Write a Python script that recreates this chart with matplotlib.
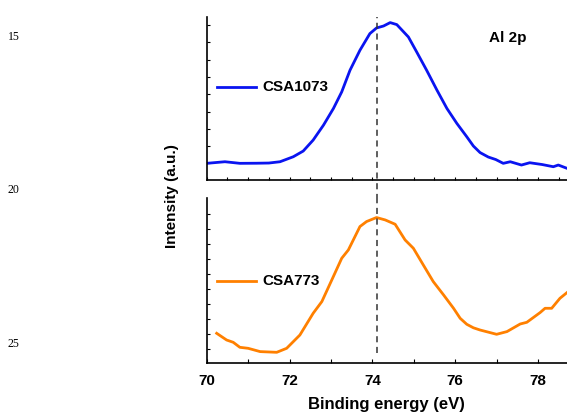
import numpy as np
import matplotlib
matplotlib.use('Agg')
import matplotlib.pyplot as plt

plt.rcParams['font.family'] = ['Liberation Sans', 'DejaVu Sans']
plt.rcParams['font.weight'] = 'bold'

PEAK_POS = 74.1

# CSA1073 (top panel), arbitrary intensity units
e_1073 = [70.0, 70.44, 70.8, 71.2, 71.5, 71.77, 72.09, 72.33, 72.57, 72.82,
          73.06, 73.26, 73.46, 73.7, 73.94, 74.1, 74.27, 74.43, 74.59, 74.87,
          75.07, 75.31, 75.56, 75.8, 76.04, 76.28, 76.44, 76.6, 76.8, 76.98,
          77.16, 77.33, 77.6, 77.8, 78.1, 78.37, 78.49, 78.7]
i_1073 = [16.7, 18.3, 16.7, 16.8, 17.0, 18.3, 23.3, 29.0, 40.0, 55.0,
          71.7, 88.3, 110.0, 130.0, 146.7, 152.3, 154.3, 157.7, 155.7, 143.3,
          128.3, 110.0, 90.0, 71.7, 56.7, 43.3, 34.0, 27.5, 23.0, 20.5,
          16.7, 18.3, 15.0, 17.3, 15.5, 13.3, 15.0, 11.7]

# CSA773 (bottom panel)
e_773 = [70.24, 70.48, 70.64, 70.8, 71.0, 71.29, 71.69, 71.93, 72.25, 72.57,
         72.78, 73.02, 73.26, 73.42, 73.7, 73.86, 74.1, 74.31, 74.55, 74.79,
         74.99, 75.23, 75.47, 75.72, 75.96, 76.12, 76.28, 76.44, 76.6, 77.0,
         77.25, 77.57, 77.73, 78.05, 78.17, 78.33, 78.53, 78.7]
i_773 = [30.0, 23.3, 21.0, 16.0, 15.0, 11.7, 11.0, 15.0, 28.3, 50.0,
         61.7, 83.3, 105.0, 113.3, 136.7, 141.7, 145.7, 143.3, 139.0, 123.3,
         115.0, 98.3, 81.7, 68.3, 55.0, 45.0, 39.0, 35.5, 33.3, 29.0,
         31.7, 39.3, 41.0, 50.7, 55.0, 55.0, 65.0, 70.7]

fig = plt.figure(figsize=(5.67, 4.19), dpi=100)
ax1 = fig.add_axes([0.3646, 0.5704, 0.6354, 0.389])
ax2 = fig.add_axes([0.3646, 0.1329, 0.6354, 0.394])

for ax in (ax1, ax2):
    ax.spines['top'].set_visible(False)
    ax.spines['right'].set_visible(False)
    ax.spines['left'].set_linewidth(1.2)
    ax.spines['bottom'].set_linewidth(1.2)
    ax.set_xlim(70, 78.7)
    ax.tick_params(axis='y', direction='in', length=2, width=0.8, labelleft=False)

ax1.plot(e_1073, i_1073, color='#0a14f0', lw=2)
ax1.set_ylim(0, 163.3)
ax1.set_yticks(np.arange(16.7, 160, 17.3))
ax1.set_xticks(np.arange(70, 78.8, 0.5))
ax1.tick_params(axis='x', direction='in', length=2, width=0.8, labelbottom=False)
ax1.plot([70.25, 71.2], [93, 93], color='#0a14f0', lw=2)
ax1.text(71.35, 93, 'CSA1073', fontsize=11, fontweight='bold', va='center')
ax1.text(76.82, 142, 'Al 2p', fontsize=11, fontweight='bold', va='center')
ax1.axvline(PEAK_POS, ymin=-0.12, ymax=1, color='#333333', lw=1.1,
            ls=(0, (4, 3)), clip_on=False)

ax2.plot(e_773, i_773, color='#ff8000', lw=2)
ax2.set_ylim(0, 165)
ax2.set_yticks(np.arange(14.3, 160, 15))
ax2.set_xticks(np.arange(70, 79, 1))
ax2.set_xticklabels(['70', '', '72', '', '74', '', '76', '', '78'])
ax2.tick_params(axis='x', direction='in', length=3, width=0.8, labelsize=11, pad=8)
for lab in ax2.get_xticklabels():
    lab.set_fontweight('bold')
ax2.plot([70.25, 71.2], [82, 82], color='#ff8000', lw=2)
ax2.text(71.35, 82, 'CSA773', fontsize=11, fontweight='bold', va='center')
ax2.axvline(PEAK_POS, ymin=0.06, ymax=1, color='#333333', lw=1.1,
            ls=(0, (4, 3)))
ax2.set_xlabel('Binding energy (eV)', fontsize=12, fontweight='bold', labelpad=6)

fig.text(0.303, 0.532, 'Intensity (a.u.)', rotation=90, fontsize=11,
         fontweight='bold', ha='center', va='center')

# page line numbers
for num, ypix in [('15', 37), ('20', 190), ('25', 344)]:
    fig.text(8 / 567, 1 - ypix / 419, num, family='Liberation Serif',
             fontweight='normal', fontsize=8.5, va='center')

fig.savefig('out.png', dpi=100)
